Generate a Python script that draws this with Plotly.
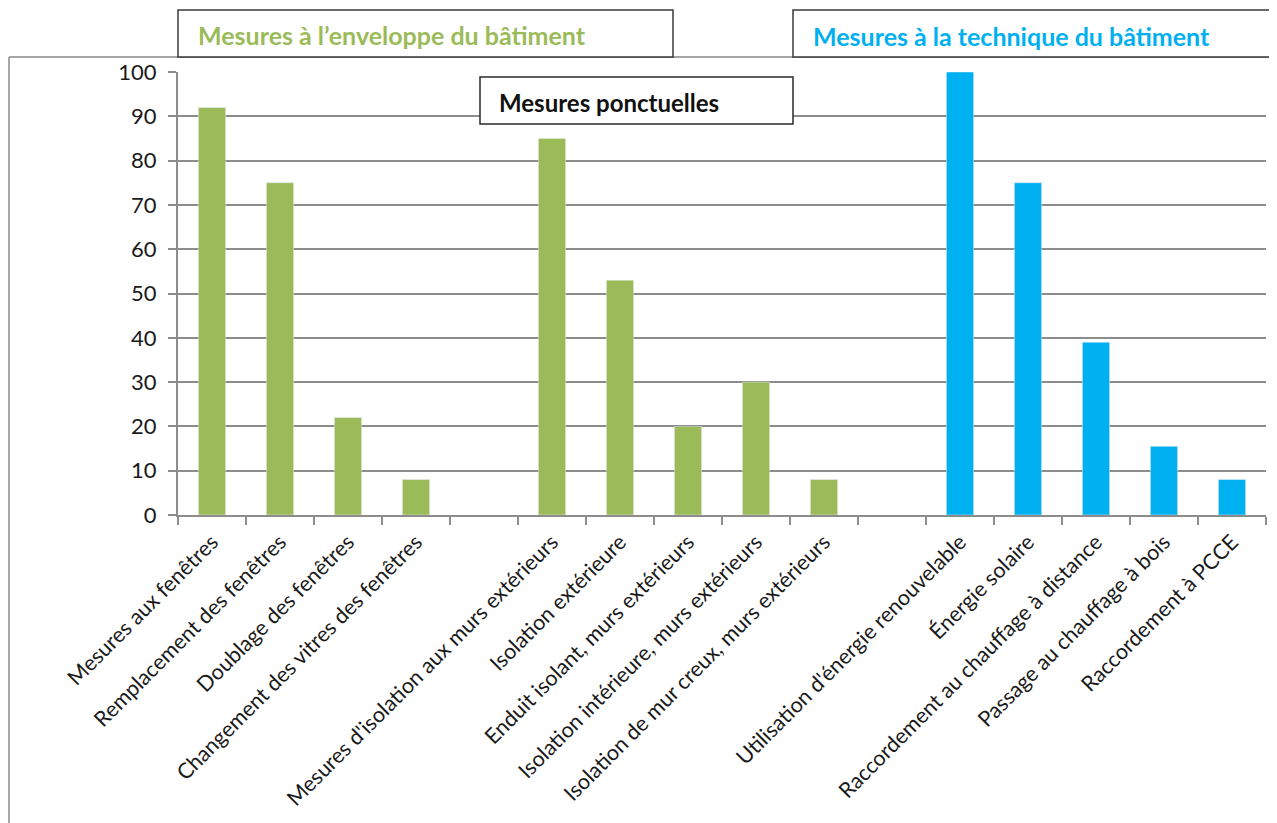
import plotly.graph_objects as go

# Data
envelope_categories = [
    "Mesures aux fenêtres",
    "Remplacement des fenêtres",
    "Doublage des fenêtres",
    "Changement des vitres des fenêtres",
    " ",
    "Mesures d'isolation aux murs extérieurs",
    "Isolation extérieure",
    "Enduit isolant, murs extérieurs",
    "Isolation intérieure, murs extérieurs",
    "Isolation de mur creux, murs extérieurs",
    "  ",
]
envelope_values = [92, 75, 22, 8, None, 85, 53, 20, 30, 8, None]

technique_categories = [
    "Utilisation d'énergie renouvelable",
    "Énergie solaire",
    "Raccordement au chauffage à distance",
    "Passage au chauffage à bois",
    "Raccordement à PCCE",
]
technique_values = [100, 75, 39, 15.5, 8]

y_ticks = list(range(0, 101, 10))

GREEN = "#9BBB59"
BLUE = "#00B0F0"
GRID = "#8C8C8C"
FONT = "Lato, 'Open Sans', sans-serif"

all_categories = envelope_categories + technique_categories

fig = go.Figure()
fig.add_trace(go.Bar(x=envelope_categories, y=envelope_values,
                     marker_color=GREEN, width=0.4, hoverinfo="x+y"))
fig.add_trace(go.Bar(x=technique_categories, y=technique_values,
                     marker_color=BLUE, width=0.4, hoverinfo="x+y"))

# page has an 8px body margin; work in page pixels and convert
OFF = 8
PAGE_W, PAGE_H = 1277, 823
W, H = PAGE_W - OFF, PAGE_H - OFF
PL, PR, PT, PB = 178, 1266, 72, 515  # plot area in page pixels
L, T = PL - OFF, PT - OFF
R = W - (PR - OFF)
B = H - (PB - OFF)
pw = PR - PL
ph = PB - PT


def px(x):
    return (x - PL) / pw


def py(y):
    return (PB - y) / ph


shapes = [
    # outer frame (left + top)
    dict(type="line", xref="paper", yref="paper", x0=px(9), x1=px(9),
         y0=py(830), y1=py(57), line=dict(color="#A6A6A6", width=2)),
    dict(type="line", xref="paper", yref="paper", x0=px(9), x1=px(1290),
         y0=py(57), y1=py(57), line=dict(color="#A6A6A6", width=2)),
    # title boxes
    dict(type="rect", xref="paper", yref="paper", x0=px(178), x1=px(673),
         y0=py(57), y1=py(10), line=dict(color="#3A3A3A", width=1.5),
         fillcolor="white"),
    dict(type="rect", xref="paper", yref="paper", x0=px(793), x1=px(1295),
         y0=py(57), y1=py(10), line=dict(color="#3A3A3A", width=1.5),
         fillcolor="white"),
    dict(type="rect", xref="paper", yref="paper", x0=px(480), x1=px(793),
         y0=py(124), y1=py(77), line=dict(color="#2A2A2A", width=1.5),
         fillcolor="white", layer="above"),
]

annotations = [
    dict(text="<b>Mesures à l’enveloppe du bâtiment</b>", xref="paper", yref="paper",
         x=px(196), y=py(35), xanchor="left", yanchor="middle", showarrow=False,
         font=dict(family=FONT, size=25, color=GREEN)),
    dict(text="<b>Mesures à la technique du bâtiment</b>", xref="paper", yref="paper",
         x=px(811), y=py(36), xanchor="left", yanchor="middle", showarrow=False,
         font=dict(family=FONT, size=25, color=BLUE)),
    dict(text="<b>Mesures ponctuelles</b>", xref="paper", yref="paper",
         x=px(497), y=py(103), xanchor="left", yanchor="middle", showarrow=False,
         font=dict(family=FONT, size=24, color="#111111")),
]

fig.update_layout(
    width=W, height=H,
    margin=dict(l=L, r=R, t=T, b=B, pad=0),
    paper_bgcolor="white", plot_bgcolor="white",
    barmode="overlay",
    showlegend=False,
    shapes=shapes,
    annotations=annotations,
    font=dict(family=FONT, size=17, color="#1A1A1A"),
    xaxis=dict(
        type="category",
        categoryorder="array", categoryarray=all_categories,
        tickson="boundaries",
        ticks="outside", ticklen=8, tickwidth=2, tickcolor=GRID,
        showline=True, linecolor=GRID, linewidth=2,
        showgrid=False,
        tickangle=-45,
        ticklabelstandoff=4,
        automargin=False,
        tickfont=dict(family=FONT, size=21.5, color="#1A1A1A"),
    ),
    yaxis=dict(
        range=[0, 100],
        tickvals=y_ticks,
        ticks="outside", ticklen=8, tickwidth=2, tickcolor=GRID,
        showline=True, linecolor=GRID, linewidth=2,
        showgrid=True, gridcolor=GRID, gridwidth=2,
        zeroline=False,
        ticklabelstandoff=7,
        automargin=False,
        tickfont=dict(family=FONT, size=22, color="#1A1A1A"),
    ),
)

fig.write_html("out.html")
